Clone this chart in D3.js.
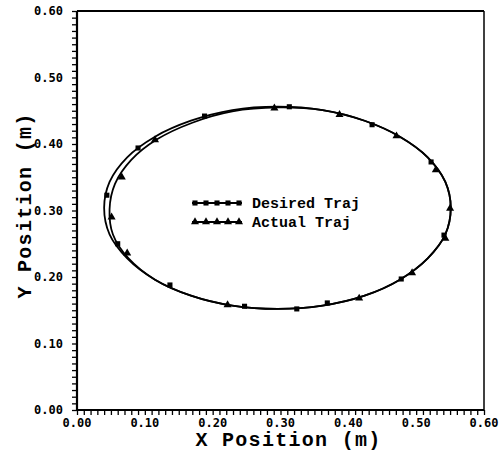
<!DOCTYPE html>
<html lang="en">
<head>
<meta charset="UTF-8">
<title>Desired vs Actual Trajectory</title>
<script src="https://d3js.org/d3.v7.min.js"></script>
<style>
  body { margin: 0; background: #fff; }
  .tick-label { font-family: "DejaVu Sans Mono", monospace; font-weight: bold; font-size: 12px; }
  .axis-title { font-family: "Liberation Mono", "Courier New", monospace; font-weight: bold; font-size: 20px; letter-spacing: 1.3px; }
  .legend-text { font-family: "Liberation Mono", "Courier New", monospace; font-weight: bold; font-size: 15px; }
</style>
</head>
<body>
<svg width="501" height="453"></svg>
<script>
// ticks
const xTicks = [0, 0.1, 0.2, 0.3, 0.4, 0.5, 0.6];
const yTicks = [0, 0.1, 0.2, 0.3, 0.4, 0.5, 0.6];

// trajectories, [x, y] in metres
const desiredPath = [
  [0.551,0.304],[0.543,0.343],[0.517,0.380],[0.476,0.411],[0.424,0.435],[0.362,0.451],
  [0.296,0.456],[0.229,0.451],[0.168,0.435],[0.115,0.411],[0.074,0.380],[0.048,0.343],
  [0.040,0.304],[0.048,0.264],[0.074,0.228],[0.115,0.196],[0.168,0.172],[0.229,0.157],
  [0.296,0.152],[0.362,0.157],[0.424,0.172],[0.476,0.196],[0.517,0.228],[0.543,0.264]
];
const actualPath = [
  [0.551,0.304],[0.543,0.343],[0.517,0.380],[0.476,0.411],[0.424,0.435],[0.362,0.451],
  [0.296,0.455],[0.229,0.449],[0.170,0.432],[0.118,0.407],[0.080,0.376],[0.056,0.340],
  [0.048,0.302],[0.053,0.264],[0.076,0.228],[0.115,0.196],[0.168,0.172],[0.229,0.157],
  [0.296,0.152],[0.362,0.157],[0.424,0.172],[0.476,0.196],[0.517,0.228],[0.543,0.264]
];
const desiredMarkers = [
  [0.541,0.263],[0.522,0.373],[0.435,0.429],[0.313,0.456],[0.188,0.442],[0.090,0.394],
  [0.044,0.323],[0.060,0.250],[0.137,0.188],[0.247,0.156],[0.324,0.152],[0.369,0.161],
  [0.478,0.197]
];
const actualMarkers = [
  [0.550,0.303],[0.529,0.361],[0.471,0.412],[0.387,0.444],[0.291,0.454],[0.115,0.406],
  [0.066,0.350],[0.051,0.290],[0.074,0.236],[0.222,0.158],[0.416,0.168],[0.494,0.206],
  [0.543,0.258]
];
const legendLabels = ["Desired Traj", "Actual Traj"];

const margin = { top: 11, right: 17, bottom: 43, left: 77 },
      width = 501 - margin.left - margin.right,
      height = 453 - margin.top - margin.bottom;

const svg = d3.select("svg")
  .append("g")
  .attr("transform", `translate(${margin.left},${margin.top})`);

const x = d3.scaleLinear().domain([0, 0.6]).range([0, width]);
const y = d3.scaleLinear().domain([0, 0.6]).range([height, 0]);
const fmt = d3.format(".2f");

// minor ticks every 0.01
const minor = d3.range(0, 61).map(i => i / 100);

const xAxis = svg.append("g")
  .attr("transform", `translate(0,${height})`)
  .call(d3.axisBottom(x).tickValues(minor).tickSize(5).tickFormat(""));
const yAxis = svg.append("g")
  .call(d3.axisLeft(y).tickValues(minor).tickSize(5).tickFormat(""));
[xAxis, yAxis].forEach(a => {
  a.select(".domain").remove();
  a.selectAll(".tick line").attr("stroke", "#000").attr("stroke-width", 1.3);
});

// frame
svg.append("line").attr("x1", 0).attr("x2", 0).attr("y1", 0).attr("y2", height)
  .attr("stroke", "#000").attr("stroke-width", 2.2);
svg.append("line").attr("x1", 0).attr("x2", width).attr("y1", height).attr("y2", height)
  .attr("stroke", "#000").attr("stroke-width", 2.2);
svg.append("line").attr("x1", 0).attr("x2", width).attr("y1", 0).attr("y2", 0)
  .attr("stroke", "#000").attr("stroke-width", 1.8);
svg.append("line").attr("x1", width).attr("x2", width).attr("y1", 0).attr("y2", height)
  .attr("stroke", "#000").attr("stroke-width", 1.5);

// tick labels
svg.selectAll(".xl").data(xTicks).enter().append("text")
  .attr("class", "tick-label")
  .attr("x", d => x(d)).attr("y", height + 17)
  .attr("text-anchor", "middle")
  .text(d => fmt(d));
svg.selectAll(".yl").data(yTicks).enter().append("text")
  .attr("class", "tick-label")
  .attr("x", -14).attr("y", d => y(d) + 4)
  .attr("text-anchor", "end")
  .text(d => fmt(d));

// axis titles
svg.append("text").attr("class", "axis-title")
  .attr("x", width / 2 + 8).attr("y", height + 36)
  .attr("text-anchor", "middle")
  .text("X Position (m)");
svg.append("text").attr("class", "axis-title")
  .attr("transform", "rotate(-90)")
  .attr("x", -height / 2 + 5).attr("y", -46)
  .attr("text-anchor", "middle")
  .text("Y Position (m)");

// curves
const line = d3.line()
  .x(d => x(d[0])).y(d => y(d[1]))
  .curve(d3.curveCatmullRomClosed);

svg.append("path").datum(desiredPath)
  .attr("d", line).attr("fill", "none").attr("stroke", "#000").attr("stroke-width", 1.8);
svg.append("path").datum(actualPath)
  .attr("d", line).attr("fill", "none").attr("stroke", "#000").attr("stroke-width", 1.8);

const square = d3.symbol().type(d3.symbolSquare).size(26);
const triangle = d3.symbol().type(d3.symbolTriangle).size(28);

svg.selectAll(".sq").data(desiredMarkers).enter().append("path")
  .attr("transform", d => `translate(${x(d[0])},${y(d[1])})`)
  .attr("d", square).attr("fill", "#000");
svg.selectAll(".tr").data(actualMarkers).enter().append("path")
  .attr("transform", d => `translate(${x(d[0])},${y(d[1])})`)
  .attr("d", triangle).attr("fill", "#000");

// legend
const legend = svg.append("g").attr("transform", `translate(${192 - margin.left},${203 - margin.top})`);
legendLabels.forEach((label, i) => {
  const g = legend.append("g").attr("transform", `translate(0,${i * 19})`);
  g.append("line").attr("x1", 0).attr("x2", 50).attr("y1", 0).attr("y2", 0)
    .attr("stroke", "#000").attr("stroke-width", 1.8);
  d3.range(5).forEach(k => {
    g.append("path")
      .attr("transform", `translate(${3 + k * 11},0)`)
      .attr("d", i === 0 ? square : triangle)
      .attr("fill", "#000");
  });
  g.append("text").attr("class", "legend-text")
    .attr("x", 60).attr("y", 5)
    .text(label);
});
</script>
</body>
</html>
